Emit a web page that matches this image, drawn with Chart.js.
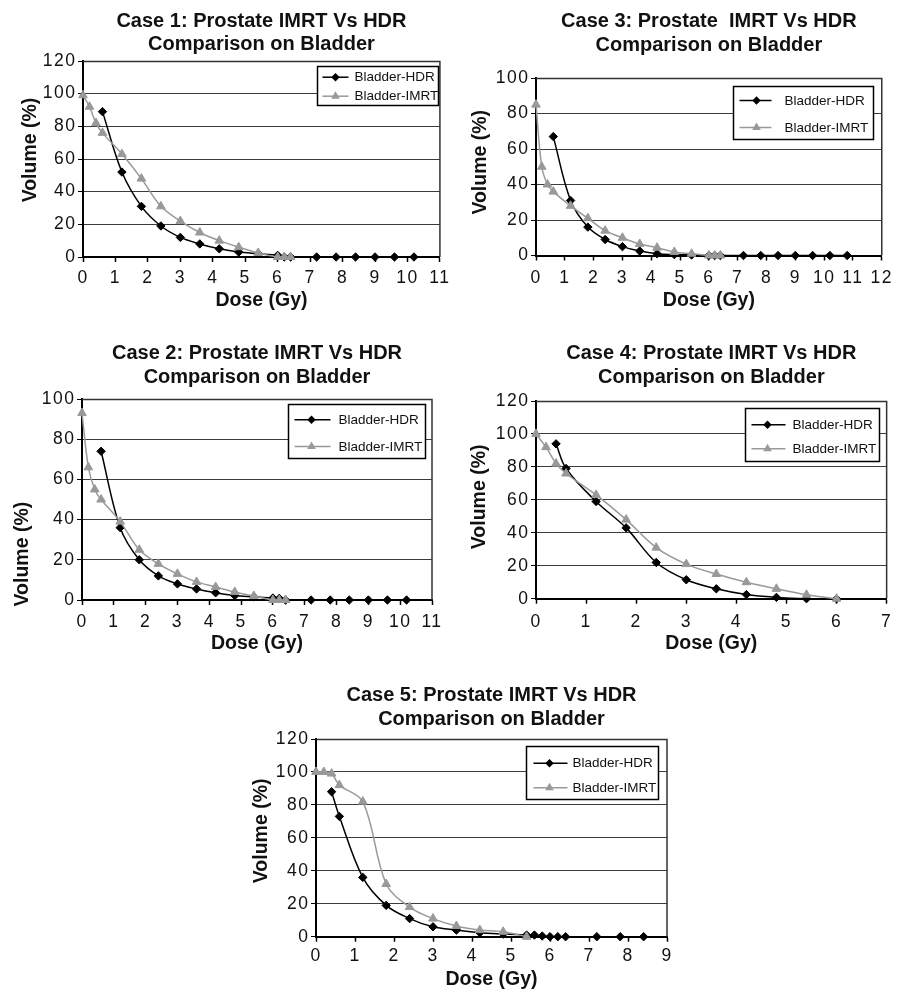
<!DOCTYPE html>
<html>
<head>
<meta charset="utf-8">
<script src="https://cdn.jsdelivr.net/npm/chart.js@4/dist/chart.umd.min.js"></script>
<style>
html, body { margin: 0; padding: 0; background: #ffffff; }
body { width: 899px; height: 989px; position: relative; overflow: hidden; }
canvas { position: absolute; }
</style>
</head>
<body>
<canvas id="c1" width="455" height="314" style="left:0px;top:0px"></canvas>
<canvas id="c3" width="444" height="314" style="left:455px;top:0px"></canvas>
<canvas id="c2" width="455" height="337" style="left:0px;top:320px"></canvas>
<canvas id="c4" width="444" height="337" style="left:455px;top:320px"></canvas>
<canvas id="c5" width="460" height="329" style="left:230px;top:660px"></canvas>
<script>
// ---------- data ----------
const seriesNames = ['Bladder-HDR', 'Bladder-IMRT'];
const xAxisLabel = 'Dose (Gy)';
const yAxisLabel = 'Volume (%)';

const case1Title = ['Case 1: Prostate IMRT Vs HDR', 'Comparison on Bladder'];
const case1HdrDose = [0.6, 1.2, 1.8, 2.4, 3.0, 3.6, 4.2, 4.8, 5.4, 6.0, 6.2, 6.4, 7.2, 7.8, 8.4, 9.0, 9.6, 10.2];
const case1HdrVol  = [89, 52, 31, 19, 12, 8, 5, 3, 2, 1, 0, 0, 0, 0, 0, 0, 0, 0];
const case1ImrtDose = [0, 0.2, 0.4, 0.6, 1.2, 1.8, 2.4, 3.0, 3.6, 4.2, 4.8, 5.4, 6.0, 6.2, 6.4];
const case1ImrtVol  = [99, 92, 82, 76, 63, 48, 31, 22, 15, 10, 6, 2.5, 0, 0, 0];
const case1XMax = 11, case1YMax = 120;

const case2Title = ['Case 2: Prostate IMRT Vs HDR', 'Comparison on Bladder'];
const case2HdrDose = [0.6, 1.2, 1.8, 2.4, 3.0, 3.6, 4.2, 4.8, 5.4, 6.0, 6.2, 6.4, 7.2, 7.8, 8.4, 9.0, 9.6, 10.2];
const case2HdrVol  = [74, 36, 20, 12, 8, 5.5, 3.6, 2.2, 1.6, 1, 0.8, 0, 0, 0, 0, 0, 0, 0];
const case2ImrtDose = [0, 0.2, 0.4, 0.6, 1.2, 1.8, 2.4, 3.0, 3.6, 4.2, 4.8, 5.4, 6.0, 6.2, 6.4];
const case2ImrtVol  = [93, 66, 55, 50, 39, 25, 18, 13, 9, 6.5, 4, 2, 0, 0, 0];
const case2XMax = 11, case2YMax = 100;

const case3Title = ['Case 3: Prostate  IMRT Vs HDR', 'Comparison on Bladder'];
const case3HdrDose = [0.6, 1.2, 1.8, 2.4, 3.0, 3.6, 4.2, 4.8, 5.4, 6.0, 6.2, 6.4, 7.2, 7.8, 8.4, 9.0, 9.6, 10.2, 10.8];
const case3HdrVol  = [67, 31, 16, 9, 5, 2.5, 1, 0.5, 0.3, 0, 0, 0, 0, 0, 0, 0, 0, 0, 0];
const case3ImrtDose = [0, 0.2, 0.4, 0.6, 1.2, 1.8, 2.4, 3.0, 3.6, 4.2, 4.8, 5.4, 6.0, 6.2, 6.4];
const case3ImrtVol  = [85, 50, 40, 36, 28, 21, 14, 10, 6.5, 4.4, 2, 1, 0, 0, 0];
const case3XMax = 12, case3YMax = 100;

const case4Title = ['Case 4: Prostate IMRT Vs HDR', 'Comparison on Bladder'];
const case4HdrDose = [0.4, 0.6, 1.2, 1.8, 2.4, 3.0, 3.6, 4.2, 4.8, 5.4, 6.0];
const case4HdrVol  = [94, 79, 59, 43, 22, 11.5, 6, 2.5, 0.8, 0, 0];
const case4ImrtDose = [0, 0.2, 0.4, 0.6, 1.2, 1.8, 2.4, 3.0, 3.6, 4.2, 4.8, 5.4, 6.0];
const case4ImrtVol  = [100, 92, 82, 76, 63, 48, 31, 21, 15, 10, 6, 2.4, 0];
const case4XMax = 7, case4YMax = 120;

const case5Title = ['Case 5: Prostate IMRT Vs HDR', 'Comparison on Bladder'];
const case5HdrDose = [0.4, 0.6, 1.2, 1.8, 2.4, 3.0, 3.6, 4.2, 4.8, 5.4, 5.6, 5.8, 6.0, 6.2, 6.4, 7.2, 7.8, 8.4];
const case5HdrVol  = [88, 73, 36, 19, 11, 6, 4, 2.4, 1.6, 1, 1, 0.4, 0, 0, 0, 0, 0, 0];
const case5ImrtDose = [0, 0.2, 0.4, 0.6, 1.2, 1.8, 2.4, 3.0, 3.6, 4.2, 4.8, 5.4];
const case5ImrtVol  = [100, 100, 99, 92, 82, 32, 18, 11, 6.5, 4, 3, 0];
const case5XMax = 9, case5YMax = 120;

// ---------- styling / drawing ----------
const FAM = "'Liberation Sans', Arial, Helvetica, sans-serif";
const TEXT = '#111111';
const HDR_COLOR = '#000000';
const IMRT_COLOR = '#999999';

function zip(xs, ys) { return xs.map((x, i) => ({ x: x, y: ys[i] })); }

function drawMarker(ctx, style, x, y, r, color) {
  ctx.beginPath();
  if (style === 'rectRot') {
    ctx.moveTo(x, y - r); ctx.lineTo(x + r, y); ctx.lineTo(x, y + r); ctx.lineTo(x - r, y);
  } else {
    ctx.moveTo(x, y - r); ctx.lineTo(x + 0.866 * r, y + 0.5 * r); ctx.lineTo(x - 0.866 * r, y + 0.5 * r);
  }
  ctx.closePath();
  ctx.fillStyle = color; ctx.fill();
}

function framePlugin() {
  return {
    id: 'frame',
    afterDraw(chart) {
      const a = chart.chartArea, ctx = chart.ctx;
      ctx.save();
      ctx.strokeStyle = '#333333'; ctx.lineWidth = 1.5;
      ctx.beginPath();
      ctx.moveTo(a.left, a.top + 0.5); ctx.lineTo(a.right, a.top + 0.5);
      ctx.lineTo(a.right, a.bottom);
      ctx.stroke();
      ctx.restore();
    }
  };
}

// slightly wider tick-label spacing and a small vertical nudge of the y-axis title
function axisTextPlugin(yShift) {
  return {
    id: 'axisText',
    beforeDraw(chart) {
      Object.values(chart.scales).forEach(s => {
        if (s._wrapped) return;
        const origLabels = s.drawLabels;
        s.drawLabels = function (area) {
          const ctx = this.ctx;
          const prev = ctx.letterSpacing;
          ctx.letterSpacing = '1.5px';
          origLabels.call(this, area);
          ctx.letterSpacing = prev || '0px';
        };
        if (s.axis === 'y') {
          const origTitle = s.drawTitle;
          s.drawTitle = function () {
            const ctx = this.ctx;
            ctx.save(); ctx.translate(0, yShift);
            origTitle.call(this);
            ctx.restore();
          };
        }
        s._wrapped = true;
      });
    }
  };
}

function boxLegendPlugin(L) {
  return {
    id: 'boxLegend',
    afterDraw(chart) {
      const a = chart.chartArea, ctx = chart.ctx;
      const bx = Math.round(a.right - L.right - L.w) + 0.5, by = Math.round(a.top + L.top) + 0.5;
      ctx.save();
      ctx.fillStyle = '#ffffff'; ctx.fillRect(bx, by, L.w, L.h);
      ctx.strokeStyle = '#000000'; ctx.lineWidth = 1.5; ctx.strokeRect(bx, by, L.w, L.h);
      chart.data.datasets.forEach((ds, i) => {
        const y = by + L.rows[i];
        ctx.strokeStyle = ds.borderColor; ctx.lineWidth = ds.borderWidth;
        ctx.beginPath(); ctx.moveTo(bx + L.lx1, y); ctx.lineTo(bx + L.lx2, y); ctx.stroke();
        drawMarker(ctx, ds.pointStyle, bx + L.mx, y, ds.pointStyle === 'rectRot' ? 4.2 : 5, ds.pointBackgroundColor);
        ctx.fillStyle = TEXT; ctx.font = '13.5px ' + FAM;
        ctx.textAlign = 'left'; ctx.textBaseline = 'middle';
        ctx.fillText(ds.label, bx + L.tx, y + 0.5);
      });
      ctx.restore();
    }
  };
}

function makeChart(id, p) {
  return new Chart(document.getElementById(id), {
    type: 'line',
    data: {
      datasets: [
        { label: seriesNames[0], data: zip(p.hdrDose, p.hdrVol), borderColor: HDR_COLOR, backgroundColor: HDR_COLOR,
          borderWidth: 1.5, pointStyle: 'rectRot', pointRadius: 4.2, pointBorderWidth: 1,
          pointBackgroundColor: HDR_COLOR, pointBorderColor: HDR_COLOR, tension: 0.35, clip: false, order: 2, fill: false },
        { label: seriesNames[1], data: zip(p.imrtDose, p.imrtVol), borderColor: IMRT_COLOR, backgroundColor: IMRT_COLOR,
          borderWidth: 1.5, pointStyle: 'triangle', pointRadius: 5, pointBorderWidth: 1,
          pointBackgroundColor: IMRT_COLOR, pointBorderColor: IMRT_COLOR, tension: 0.35, clip: false, order: 1, fill: false }
      ]
    },
    options: {
      responsive: false, animation: false, devicePixelRatio: 1,
      layout: { padding: { left: 0, right: p.padRight, top: 0, bottom: 0 } },
      plugins: {
        legend: { display: false },
        tooltip: { enabled: false },
        title: {
          display: true, text: p.title, fullSize: false, color: TEXT,
          font: { family: FAM, size: 20, weight: 'bold', lineHeight: p.titleLH },
          padding: { top: p.titleTop, bottom: p.titleBottom }
        }
      },
      scales: {
        x: {
          type: 'linear', min: 0, max: p.xMax,
          afterFit(s) { s.height = p.xHeight; },
          ticks: { stepSize: 1, autoSkip: false, maxRotation: 0, color: TEXT, padding: p.xTickPad,
                   font: { family: FAM, size: 17.5, lineHeight: 1.2 } },
          grid: { drawOnChartArea: false, drawTicks: true, tickLength: 5, tickColor: '#000000', tickWidth: 1.5 },
          border: { display: true, color: '#000000', width: 2 },
          title: { display: true, text: xAxisLabel, color: TEXT,
                   font: { family: FAM, size: 19.5, weight: 'bold', lineHeight: 1 },
                   padding: { top: 0, bottom: p.xTitleBottom } }
        },
        y: {
          type: 'linear', min: 0, max: p.yMax,
          afterFit(s) { s.width = p.yWidth; },
          ticks: { stepSize: 20, color: TEXT, padding: 1.5, font: { family: FAM, size: 17.5, lineHeight: 1.2 } },
          grid: { color: '#3c3c3c', lineWidth: 1, drawTicks: true, tickLength: 5, tickColor: '#000000' },
          border: { display: true, color: '#000000', width: 2 },
          title: { display: true, text: yAxisLabel, color: TEXT, align: p.yAlign || 'center',
                   font: { family: FAM, size: 19.5, weight: 'bold', lineHeight: 1 },
                   padding: { top: p.yTitlePad, bottom: 0 } }
        }
      }
    },
    plugins: [axisTextPlugin(p.yTitleShift), framePlugin(), boxLegendPlugin(p.legend)]
  });
}

makeChart('c1', {
  title: case1Title, hdrDose: case1HdrDose, hdrVol: case1HdrVol, imrtDose: case1ImrtDose, imrtVol: case1ImrtVol,
  xMax: case1XMax, yMax: case1YMax,
  padRight: 15, yWidth: 83, yTitlePad: 20.5, yTitleShift: -9, titleLH: 1.15, titleTop: 10, titleBottom: 5,
  xHeight: 57, xTickPad: 6, xTitleBottom: 4,
  legend: { right: 2, top: 5, w: 121, h: 39, rows: [10.7, 29.7], lx1: 5, lx2: 31, mx: 18, tx: 37 }
});
makeChart('c3', {
  title: case3Title, hdrDose: case3HdrDose, hdrVol: case3HdrVol, imrtDose: case3ImrtDose, imrtVol: case3ImrtVol,
  xMax: case3XMax, yMax: case3YMax,
  padRight: 13, yWidth: 81, yTitlePad: 15.5, yTitleShift: -4.5, titleLH: 1.2, titleTop: 9.5, titleBottom: 20.5,
  xHeight: 58.5, xTickPad: 7.5, xTitleBottom: 4,
  legend: { right: 9, top: 8, w: 140, h: 53, rows: [14, 41], lx1: 6, lx2: 38, mx: 23, tx: 51 }
});
makeChart('c2', {
  title: case2Title, hdrDose: case2HdrDose, hdrVol: case2HdrVol, imrtDose: case2ImrtDose, imrtVol: case2ImrtVol,
  xMax: case2XMax, yMax: case2YMax,
  padRight: 23, yWidth: 82, yTitlePad: 12.6, yAlign: 'start', yTitleShift: 6.5, titleLH: 1.2, titleTop: 21, titleBottom: 10,
  xHeight: 57, xTickPad: 6.5, xTitleBottom: 4,
  legend: { right: 7, top: 5, w: 137, h: 54, rows: [15.3, 42], lx1: 6, lx2: 42, mx: 23, tx: 50 }
});
makeChart('c4', {
  title: case4Title, hdrDose: case4HdrDose, hdrVol: case4HdrVol, imrtDose: case4ImrtDose, imrtVol: case4ImrtVol,
  xMax: case4XMax, yMax: case4YMax,
  padRight: 11, yWidth: 81, yTitlePad: 15, yTitleShift: -3, titleLH: 1.2, titleTop: 21, titleBottom: 12,
  xHeight: 58.3, xTickPad: 7.5, xTitleBottom: 4,
  legend: { right: 8, top: 7, w: 134, h: 53, rows: [16.3, 40.3], lx1: 6, lx2: 40, mx: 22, tx: 47 }
});
makeChart('c5', {
  title: case5Title, hdrDose: case5HdrDose, hdrVol: case5HdrVol, imrtDose: case5ImrtDose, imrtVol: case5ImrtVol,
  xMax: case5XMax, yMax: case5YMax,
  padRight: 23, yWidth: 86, yTitlePad: 21.5, yTitleShift: -7, titleLH: 1.18, titleTop: 23.9, titleBottom: 7.9,
  xHeight: 52.3, xTickPad: 4, xTitleBottom: 0,
  legend: { right: 9, top: 7, w: 132, h: 53, rows: [16.7, 41.3], lx1: 7, lx2: 41, mx: 23, tx: 46 }
});
</script>
</body>
</html>
